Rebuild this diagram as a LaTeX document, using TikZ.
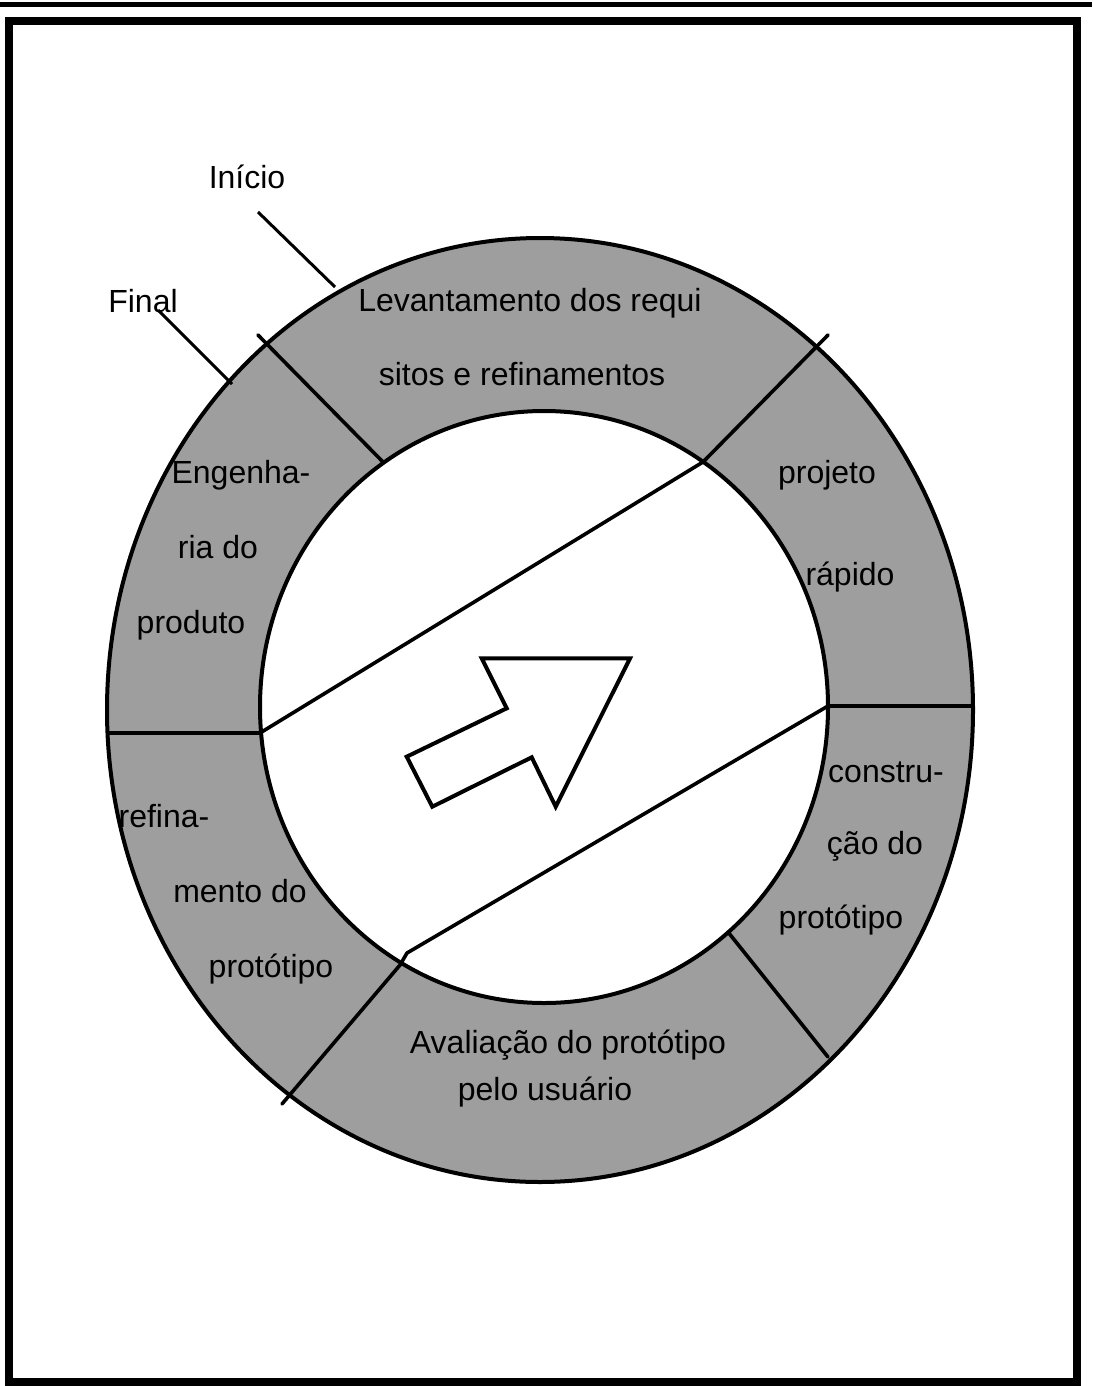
\documentclass[tikz,border=0pt]{standalone}
\usepackage{fontspec}
\setmainfont{Liberation Sans}
\usetikzlibrary{positioning}

\definecolor{ringgray}{gray}{0.62}

\begin{document}
\begin{tikzpicture}[
    x=0.5pt, y=-0.5pt,
    every node/.style={font=\fontsize{16}{19}\selectfont, inner sep=0pt, anchor=base},
    rim/.style={line width=2pt},
    divider/.style={line width=1.8pt, line cap=round},
    pointer/.style={line width=1.5pt}
]
\useasboundingbox (0,0) rectangle (1092,1386);

% Moldura
\draw[line width=2.5pt] (0,4.5) -- (1092,4.5);
\draw[line width=4pt] (9,21) rectangle (1076.5,1381.5);

% Anel
\fill[ringgray, even odd rule]
    (540,710) ellipse [x radius=216.5pt, y radius=236pt]
    (544,707) ellipse [x radius=142pt, y radius=148pt];
\draw[rim] (540,710) ellipse [x radius=216.5pt, y radius=236pt];
\draw[rim] (544,707) ellipse [x radius=142pt, y radius=148pt];

% Pontos das divisoes
\coordinate (inL)   at (260,733);
\coordinate (outL)  at (108,733);
\coordinate (inR)   at (828,706);
\coordinate (outR)  at (973,706);
\coordinate (inUR)  at (703,462);
\coordinate (endUR) at (828,335);
\coordinate (kinkLL) at (407,953);
\coordinate (inLL)  at (400,965);
\coordinate (endLL) at (282,1104);
\coordinate (endUL) at (258,335);
\coordinate (inUL)  at (383,462);
\coordinate (inLR)  at (728,932);
\coordinate (outLR) at (828,1057);

\draw[divider] (outL) -- (inL) -- (inUR) -- (endUR);
\draw[divider] (outR) -- (inR) -- (kinkLL) -- (inLL) -- (endLL);
\draw[divider] (endUL) -- (inUL);
\draw[divider] (inLR) -- (outLR);

% Seta central
\draw[rim, line join=miter]
    (481.7,658.3) -- (630,658.3) -- (555.7,806.7) -- (531.7,757.3)
    -- (432.3,806.7) -- (406.7,756.7) -- (506.7,708.3) -- cycle;

% Inicio e final
\node (inicio) at (247,188) {Início};
\node (final)  at (143,312) {Final};
\coordinate (inicioA) at (258,212);
\coordinate (inicioB) at (335,287);
\coordinate (finalA)  at (158,310);
\coordinate (finalB)  at (232,384);
\draw[pointer] (inicioA) -- (inicioB);
\draw[pointer] (finalA) -- (finalB);

% Textos do anel
\node (lev1) at (530,311) {Levantamento dos requi};
\node (lev2) at (522,385) {sitos e refinamentos};

\node (proj1) at (827,483) {projeto};
\node (proj2) at (850,585) {rápido};

\node (cons1) at (886,782) {constru-};
\node (cons2) at (875,854) {ção do};
\node (cons3) at (841,928) {protótipo};

\node (aval1) at (568,1053) {Avaliação do protótipo};
\node (aval2) at (545,1100) {pelo usuário};

\node (ref1) at (164,827) {refina-};
\node (ref2) at (240,902) {mento do};
\node (ref3) at (271,977) {protótipo};

\node (eng1) at (241,483) {Engenha-};
\node (eng2) at (218,558) {ria do};
\node (eng3) at (191,633) {produto};

\end{tikzpicture}
\end{document}
